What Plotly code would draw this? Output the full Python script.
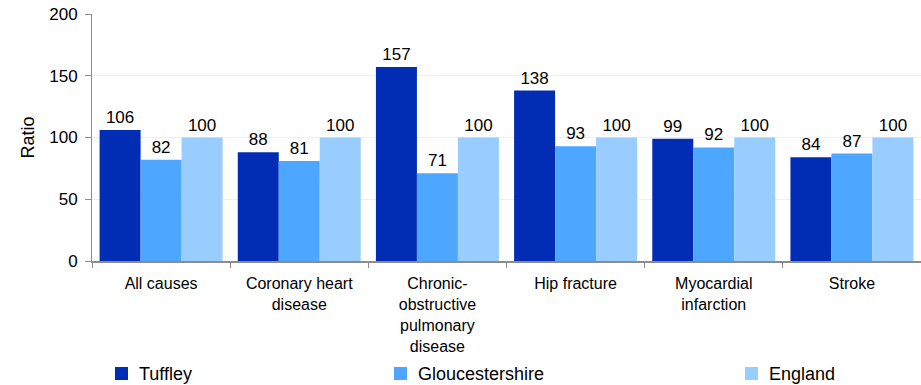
import plotly.graph_objects as go

# Standardised ratios by cause (England = 100)
categories = [
    "All causes",
    "Coronary heart<br>disease",
    "Chronic-<br>obstructive<br>pulmonary<br>disease",
    "Hip fracture",
    "Myocardial<br>infarction",
    "Stroke",
]
series_names = ["Tuffley", "Gloucestershire", "England"]
tuffley = [106, 88, 157, 138, 99, 84]
gloucestershire = [82, 81, 71, 93, 92, 87]
england = [100, 100, 100, 100, 100, 100]
y_ticks = [0, 50, 100, 150, 200]

colors = ["#002db3", "#4da6ff", "#99ccff"]
FONT = "Liberation Sans, Arial, sans-serif"

# Figure geometry (pixels)
W, H = 921, 385
M_L, M_R, M_T, M_B = 92, 0, 14, 124
plot_w = W - M_L - M_R
plot_h = H - M_T - M_B

fig = go.Figure()
for name, vals, col in zip(series_names, [tuffley, gloucestershire, england], colors):
    fig.add_trace(go.Bar(
        name=name,
        x=categories,
        y=vals,
        marker=dict(color=col, line=dict(width=0)),
        text=[str(v) for v in vals],
        textposition="outside",
        textfont=dict(family=FONT, size=17, color="#000000"),
        cliponaxis=False,
        showlegend=False,
    ))

# Legend drawn as swatches + labels below the axis
legend_sw_px = [115, 394, 745]
legend_y_px = 373.5
sw = 13
for name, col, xs in zip(series_names, colors, legend_sw_px):
    x0 = (xs - M_L) / plot_w
    x1 = (xs + sw - M_L) / plot_w
    y0 = (M_T + plot_h - (legend_y_px + sw / 2)) / plot_h
    y1 = (M_T + plot_h - (legend_y_px - sw / 2)) / plot_h
    fig.add_shape(type="rect", xref="paper", yref="paper",
                  x0=x0, x1=x1, y0=y0, y1=y1,
                  fillcolor=col, line=dict(width=0))
    fig.add_annotation(xref="paper", yref="paper",
                       x=(xs + sw + 9 - M_L) / plot_w,
                       y=(M_T + plot_h - legend_y_px) / plot_h,
                       text=name, showarrow=False,
                       xanchor="left", yanchor="middle",
                       font=dict(family=FONT, size=18, color="#000000"))

fig.update_layout(
    width=W, height=H,
    margin=dict(l=M_L, r=M_R, t=M_T, b=M_B),
    paper_bgcolor="white",
    plot_bgcolor="white",
    barmode="group",
    bargap=0.11,
    bargroupgap=0,
    font=dict(family=FONT, color="#000000"),
)
fig.update_xaxes(
    showline=True, linecolor="#8c8c8c", linewidth=2,
    ticks="outside", tickson="boundaries", ticklen=5, tickcolor="#8c8c8c", tickwidth=1,
    tickfont=dict(family=FONT, size=16, color="#000000"),
    ticklabelstandoff=7,
    showgrid=False,
)
fig.update_yaxes(
    range=[0, 200],
    tickvals=y_ticks,
    showline=True, linecolor="#8c8c8c", linewidth=1,
    ticks="outside", ticklen=6, tickcolor="#8c8c8c",
    tickfont=dict(family=FONT, size=17, color="#000000"),
    ticklabelstandoff=4,
    showgrid=True, gridcolor="#eeeeee", gridwidth=1,
    zeroline=False,
    title=dict(text="Ratio", font=dict(family=FONT, size=18, color="#000000"), standoff=9),
)

fig.write_html("out.html")
